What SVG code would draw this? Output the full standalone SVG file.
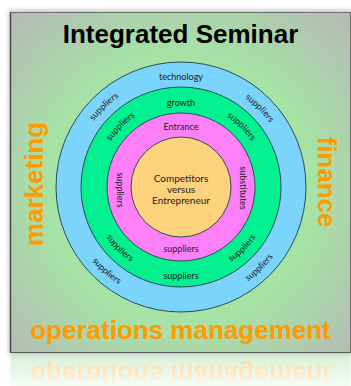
<svg xmlns="http://www.w3.org/2000/svg" xmlns:xlink="http://www.w3.org/1999/xlink" width="351" height="386" viewBox="0 0 351 386">
<style>
.ring{stroke:#2e4a58;stroke-width:1}
.lbl{font-family:Lato,"Open Sans","DejaVu Sans",sans-serif;font-size:9px;fill:#1c1c1c}
.ctr{font-family:Lato,"Open Sans","DejaVu Sans",sans-serif;font-size:10px;fill:#1c1c1c;text-anchor:middle}
.big{font-family:"Liberation Sans",Arial,sans-serif;font-weight:bold;font-size:26px}
.org{fill:#ff9a00}
</style>
<defs>
<radialGradient id="bg" cx="50%" cy="52%" r="72%">
<stop offset="0" stop-color="#a3eaa3"/>
<stop offset="0.55" stop-color="#a6e2a5"/>
<stop offset="1" stop-color="#b6b9b6"/>
</radialGradient>
<linearGradient id="refl" x1="0" y1="0" x2="0" y2="1">
<stop offset="0" stop-color="#fff" stop-opacity="0.45"/>
<stop offset="1" stop-color="#fff" stop-opacity="0.1"/>
</linearGradient>
<mask id="rm" maskUnits="userSpaceOnUse" x="0" y="353" width="351" height="33">
<rect x="0" y="353" width="351" height="33" fill="url(#refl)"/>
</mask>
<filter id="sh" x="-10%" y="-10%" width="120%" height="120%">
<feGaussianBlur stdDeviation="2.5"/>
</filter>
<path id="bu" d="M71.5 187 A109.5 109.5 0 0 1 290.5 187"/>
<path id="gu" d="M97 187 A84 84 0 0 1 265 187"/>
<path id="bl" d="M65.5 187 A115.5 115.5 0 0 0 296.5 187"/>
<path id="gl" d="M91 187 A90 90 0 0 0 271 187"/>
</defs>

<rect x="0" y="0" width="351" height="386" fill="#ffffff"/>

<g id="slide">
<rect x="9" y="10" width="344" height="344" fill="#9a9a9a" filter="url(#sh)" opacity="0.6"/>
<rect x="10.5" y="12.5" width="340" height="340" fill="url(#bg)" stroke="#6e6e6e" stroke-width="1"/>
<line x1="10.5" y1="12.5" x2="10.5" y2="352.5" stroke="#4a4a4a" stroke-width="1.5"/>
<line x1="10.5" y1="352.5" x2="350.5" y2="352.5" stroke="#5a5a5a" stroke-width="1"/>
</g>

<g id="reflection" mask="url(#rm)">
<g transform="translate(0,705) scale(1,-1)">
<rect x="10.5" y="300" width="340" height="52.5" fill="#a8dca8"/>
<text class="big org" x="180.5" y="339" text-anchor="middle">operations management</text>
</g>
</g>

<g id="title">
<text class="big" x="180.5" y="43" text-anchor="middle" fill="#000">Integrated Seminar</text>
</g>
<g id="marketing">
<text class="big org" transform="translate(43,184) rotate(-90)" text-anchor="middle">marketing</text>
</g>
<g id="finance">
<text class="big org" transform="translate(318,182) rotate(90)" text-anchor="middle">finance</text>
</g>
<g id="operations">
<text class="big org" x="180.5" y="339" text-anchor="middle">operations management</text>
</g>

<g id="ring-technology">
<circle class="ring" cx="181" cy="187" r="125" fill="#7bd4fc"/>
<text class="lbl" x="181" y="80" text-anchor="middle">technology</text>
<text class="lbl" text-anchor="middle"><textPath xlink:href="#bu" startOffset="25.7%">suppliers</textPath></text>
<text class="lbl" text-anchor="middle"><textPath xlink:href="#bu" startOffset="75%">suppliers</textPath></text>
<text class="lbl" text-anchor="middle"><textPath xlink:href="#bl" startOffset="27%">suppliers</textPath></text>
<text class="lbl" text-anchor="middle"><textPath xlink:href="#bl" startOffset="74.5%">suppliers</textPath></text>
</g>

<g id="ring-growth">
<circle class="ring" cx="181" cy="187" r="100" fill="#02f08f"/>
<text class="lbl" x="181" y="106" text-anchor="middle">growth</text>
<text class="lbl" text-anchor="middle"><textPath xlink:href="#gu" startOffset="25%">suppliers</textPath></text>
<text class="lbl" text-anchor="middle"><textPath xlink:href="#gu" startOffset="75%">suppliers</textPath></text>
<text class="lbl" text-anchor="middle"><textPath xlink:href="#gl" startOffset="25%">suppliers</textPath></text>
<text class="lbl" text-anchor="middle"><textPath xlink:href="#gl" startOffset="75%">suppliers</textPath></text>
<text class="lbl" x="181" y="279" text-anchor="middle">suppliers</text>
</g>

<g id="ring-entrance">
<circle class="ring" cx="181" cy="187" r="74" fill="#fd80f9"/>
<text class="lbl" x="181" y="130" text-anchor="middle">Entrance</text>
<text class="lbl" transform="translate(116.5,190) rotate(90)" text-anchor="middle">suppliers</text>
<text class="lbl" transform="translate(239.5,188) rotate(90)" text-anchor="middle">substitutes</text>
<text class="lbl" x="181" y="252" text-anchor="middle">suppliers</text>
</g>

<g id="core">
<circle class="ring" cx="181" cy="187" r="50" fill="#fdd27c"/>
<text class="ctr" x="181" y="182">Competitors</text>
<text class="ctr" x="181" y="193">versus</text>
<text class="ctr" x="181" y="204">Entrepreneur</text>
</g>

<g id="connectors"></g>
</svg>
